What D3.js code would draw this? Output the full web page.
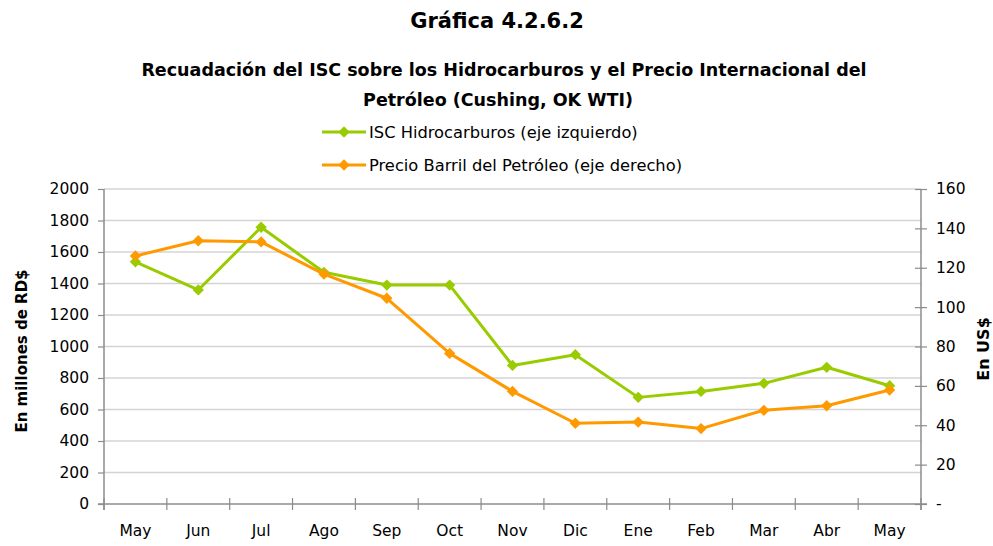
<!DOCTYPE html>
<html>
<head>
<meta charset="utf-8">
<script src="https://cdn.jsdelivr.net/npm/d3@7"></script>
<style>
  body { margin: 0; background: #fff; }
  svg text { font-family: "DejaVu Sans", sans-serif; fill: #000; }
</style>
</head>
<body>
<div id="chart"></div>
<script>
const width = 993,
  height = 546,
  margin = { top: 189, bottom: 42, left: 104, right: 72 };

// data
const months = ["May", "Jun", "Jul", "Ago", "Sep", "Oct", "Nov", "Dic", "Ene", "Feb", "Mar", "Abr", "May"];
const iscHidrocarburos = [1538, 1359, 1757, 1471, 1390, 1390, 880, 948, 677, 715, 766, 868, 751];
const precioBarril = [126, 133.7, 133.1, 116.8, 104.5, 76.5, 57.2, 41, 41.6, 38.3, 47.6, 49.9, 57.9];
const leftTicks = [0, 200, 400, 600, 800, 1000, 1200, 1400, 1600, 1800, 2000];
const rightTicks = [0, 20, 40, 60, 80, 100, 120, 140, 160];

const green = "#99cc00",
  orange = "#ff9900";

const svg = d3.select("#chart")
  .append("svg")
  .attr("width", width)
  .attr("height", height);

const x = d3.scaleBand()
  .domain(d3.range(months.length))
  .range([margin.left, width - margin.right]);

const yLeft = d3.scaleLinear()
  .domain([0, 2000])
  .range([height - margin.bottom, margin.top]);

const yRight = d3.scaleLinear()
  .domain([0, 160])
  .range([height - margin.bottom, margin.top]);

// gridlines
svg.append("g")
  .selectAll("line")
  .data(leftTicks.slice(1))
  .join("line")
  .attr("x1", margin.left)
  .attr("x2", width - margin.right)
  .attr("y1", d => yLeft(d))
  .attr("y2", d => yLeft(d))
  .attr("stroke", "#d4d4d4")
  .attr("stroke-width", 1.5);

// left axis
const leftAxis = svg.append("g")
  .attr("transform", `translate(${margin.left},0)`)
  .call(d3.axisLeft(yLeft).tickValues(leftTicks).tickFormat(d3.format("d")).tickSize(6).tickPadding(9));
leftAxis.select(".domain").attr("d", `M0,${height - margin.bottom + 6}V${margin.top}`);

// right axis
const rightAxis = svg.append("g")
  .attr("transform", `translate(${width - margin.right},0)`)
  .call(d3.axisRight(yRight).tickValues(rightTicks)
    .tickFormat(d => d === 0 ? "-" : d).tickSize(6).tickPadding(9));
rightAxis.selectAll(".tick line").attr("x1", -6);
rightAxis.select(".domain").attr("d", `M0,${height - margin.bottom + 6}V${margin.top}`);

// bottom axis with ticks between categories
const xEdges = d3.range(months.length + 1).map(i => margin.left + i * x.bandwidth());
svg.append("line")
  .attr("x1", margin.left - 6)
  .attr("x2", width - margin.right + 6)
  .attr("y1", height - margin.bottom)
  .attr("y2", height - margin.bottom)
  .attr("stroke", "#8c8c8c")
  .attr("stroke-width", 1.5);
svg.append("g")
  .selectAll("line")
  .data(xEdges)
  .join("line")
  .attr("x1", d => d)
  .attr("x2", d => d)
  .attr("y1", height - margin.bottom - 6)
  .attr("y2", height - margin.bottom + 6)
  .attr("stroke", "#8c8c8c")
  .attr("stroke-width", 1.2);
svg.append("g")
  .selectAll("text")
  .data(months)
  .join("text")
  .attr("x", (d, i) => x(i) + x.bandwidth() / 2)
  .attr("y", height - 10)
  .attr("text-anchor", "middle")
  .style("font-size", "15.5px")
  .text(d => d);

svg.selectAll(".domain").attr("stroke", "#8c8c8c").attr("stroke-width", 1.5);
svg.selectAll(".tick line").attr("stroke", "#8c8c8c").attr("stroke-width", 1.2);
svg.selectAll(".tick text").style("font-size", "15.5px");

// series
const cx = i => x(i) + x.bandwidth() / 2;
const diamond = d3.symbol().type(d3.symbolSquare).size(64);

function drawSeries(values, scale, color) {
  const line = d3.line()
    .x((d, i) => cx(i))
    .y(d => scale(d));
  svg.append("path")
    .datum(values)
    .attr("d", line)
    .attr("fill", "none")
    .attr("stroke", color)
    .attr("stroke-width", 3)
    .attr("stroke-linejoin", "round");
  svg.append("g")
    .selectAll("path")
    .data(values)
    .join("path")
    .attr("d", diamond)
    .attr("transform", (d, i) => `translate(${cx(i)},${scale(d)}) rotate(45)`)
    .attr("fill", color);
}

drawSeries(iscHidrocarburos, yLeft, green);
drawSeries(precioBarril, yRight, orange);

// titles
svg.append("text")
  .attr("x", 497).attr("y", 28)
  .attr("text-anchor", "middle")
  .style("font-size", "21px").style("font-weight", "bold")
  .text("Gráfica 4.2.6.2");
svg.append("text")
  .attr("x", 504).attr("y", 76)
  .attr("text-anchor", "middle")
  .style("font-size", "17.5px").style("font-weight", "bold")
  .text("Recuadación del ISC sobre los Hidrocarburos y el Precio Internacional del");
svg.append("text")
  .attr("x", 498).attr("y", 106)
  .attr("text-anchor", "middle")
  .style("font-size", "17.5px").style("font-weight", "bold")
  .text("Petróleo (Cushing, OK WTI)");

// legend
const legend = [
  { label: "ISC Hidrocarburos (eje izquierdo)", color: green, y: 132 },
  { label: "Precio Barril del Petróleo (eje derecho)", color: orange, y: 165 },
];
const lg = svg.append("g")
  .selectAll("g")
  .data(legend)
  .join("g")
  .attr("transform", d => `translate(322,${d.y})`);
lg.append("line")
  .attr("x1", 0).attr("x2", 44)
  .attr("stroke", d => d.color)
  .attr("stroke-width", 3);
lg.append("path")
  .attr("d", diamond)
  .attr("transform", "translate(22,0) rotate(45)")
  .attr("fill", d => d.color);
lg.append("text")
  .attr("x", 47).attr("y", 5.5)
  .style("font-size", "16.3px")
  .text(d => d.label);

// axis titles
svg.append("text")
  .attr("transform", "translate(27,351) rotate(-90)")
  .attr("text-anchor", "middle")
  .style("font-size", "15px").style("font-weight", "bold")
  .text("En millones de RD$");
svg.append("text")
  .attr("transform", "translate(989,349) rotate(-90)")
  .attr("text-anchor", "middle")
  .style("font-size", "16px").style("font-weight", "bold")
  .text("En US$");
</script>
</body>
</html>
